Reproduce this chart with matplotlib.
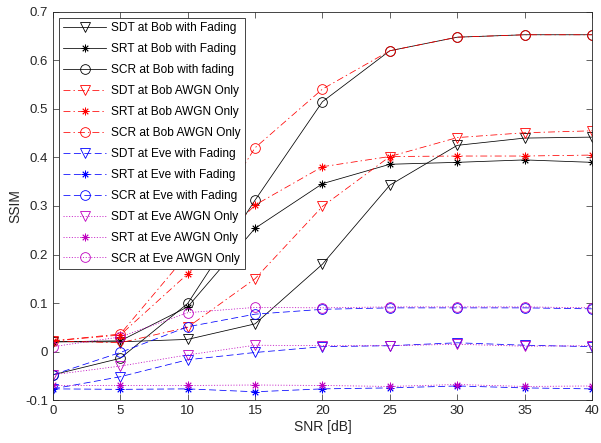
import matplotlib
matplotlib.use("Agg")
import matplotlib.pyplot as plt

plt.rcParams['font.family'] = ['Liberation Sans', 'DejaVu Sans']
plt.rcParams['lines.scale_dashes'] = False

# SNR points (dB)
snr = [0, 5, 10, 15, 20, 25, 30, 35, 40]

# Bob, with fading
sdt_bob_fad = [0.020, 0.020, 0.025, 0.057, 0.180, 0.343, 0.425, 0.440, 0.442]
srt_bob_fad = [0.020, 0.022, 0.092, 0.254, 0.346, 0.386, 0.390, 0.395, 0.390]
scr_bob_fad = [-0.048, -0.014, 0.099, 0.312, 0.515, 0.620, 0.648, 0.653, 0.653]

# Bob, AWGN only
sdt_bob_awgn = [0.022, 0.018, 0.050, 0.150, 0.299, 0.402, 0.441, 0.451, 0.455]
srt_bob_awgn = [0.022, 0.034, 0.160, 0.302, 0.381, 0.402, 0.403, 0.403, 0.405]
scr_bob_awgn = [0.022, 0.036, 0.201, 0.420, 0.541, 0.620, 0.648, 0.653, 0.653]

# Eve, with fading
sdt_eve_fad = [-0.077, -0.052, -0.017, -0.002, 0.010, 0.012, 0.018, 0.013, 0.010]
srt_eve_fad = [-0.077, -0.078, -0.077, -0.083, -0.077, -0.075, -0.071, -0.075, -0.077]
scr_eve_fad = [-0.048, -0.002, 0.051, 0.077, 0.087, 0.090, 0.090, 0.090, 0.088]

# Eve, AWGN only
sdt_eve_awgn = [-0.048, -0.030, -0.007, 0.013, 0.012, 0.012, 0.015, 0.011, 0.012]
srt_eve_awgn = [-0.070, -0.070, -0.070, -0.069, -0.070, -0.072, -0.068, -0.072, -0.071]
scr_eve_awgn = [0.010, 0.030, 0.080, 0.091, 0.090, 0.092, 0.092, 0.092, 0.090]

asterisk = (8, 2, 0)

# matlab-ish line patterns
solid = '-'
dashdot = (0, (5, 2.2, 1, 2.2))
dashed = (0, (5, 2.5))
dotted = (0, (0.8, 1.2))

series = [
    (sdt_bob_fad, 'k', solid, 'v', 'SDT at Bob with Fading'),
    (srt_bob_fad, 'k', solid, asterisk, 'SRT at Bob with Fading'),
    (scr_bob_fad, 'k', solid, 'o', 'SCR at Bob with fading'),
    (sdt_bob_awgn, 'r', dashdot, 'v', 'SDT at Bob AWGN Only'),
    (srt_bob_awgn, 'r', dashdot, asterisk, 'SRT at Bob AWGN Only'),
    (scr_bob_awgn, 'r', dashdot, 'o', 'SCR at Bob AWGN Only'),
    (sdt_eve_fad, 'b', dashed, 'v', 'SDT at Eve with Fading'),
    (srt_eve_fad, 'b', dashed, asterisk, 'SRT at Eve with Fading'),
    (scr_eve_fad, 'b', dashed, 'o', 'SCR at Eve with Fading'),
    (sdt_eve_awgn, 'm', dotted, 'v', 'SDT at Eve AWGN Only'),
    (srt_eve_awgn, 'm', dotted, asterisk, 'SRT at Eve AWGN Only'),
    (scr_eve_awgn, 'm', dotted, 'o', 'SCR at Eve AWGN Only'),
]

fig = plt.figure(figsize=(6.01, 4.43), dpi=100)
ax = fig.add_axes([0.088, 0.097, 0.897, 0.876])

for vals, col, ls, mk, lab in series:
    ms = 5.5 if mk == asterisk else 7
    ax.plot(snr, vals, color=col, linestyle=ls, linewidth=0.55,
            marker=mk, markersize=ms, fillstyle='none',
            markeredgewidth=0.6, label=lab)

ax.set_xlim(0, 40)
ax.set_ylim(-0.1, 0.7)
ax.set_xticks(snr)
ax.set_yticks([-0.1, 0, 0.1, 0.2, 0.3, 0.4, 0.5, 0.6, 0.7])
ax.set_yticklabels(['-0.1', '0', '0.1', '0.2', '0.3', '0.4', '0.5', '0.6', '0.7'])
ax.tick_params(direction='in', top=True, right=True, labelsize=9.5,
               length=4.5, width=0.5, color='#262626', labelcolor='#262626')
for sp in ax.spines.values():
    sp.set_linewidth(0.6)
    sp.set_color('#262626')

ax.set_xlabel('SNR [dB]', fontsize=10, color='#262626', labelpad=2)
ax.set_ylabel('SSIM', fontsize=10, color='#262626', labelpad=2)

leg = ax.legend(loc='upper left', fontsize=8.6, handlelength=3.6,
                handletextpad=0.4, borderpad=0.35, labelspacing=0.75,
                fancybox=False, framealpha=1, borderaxespad=0.5)
leg.get_frame().set_edgecolor('#262626')
leg.get_frame().set_linewidth(0.6)

fig.savefig('out.png', dpi=100)
